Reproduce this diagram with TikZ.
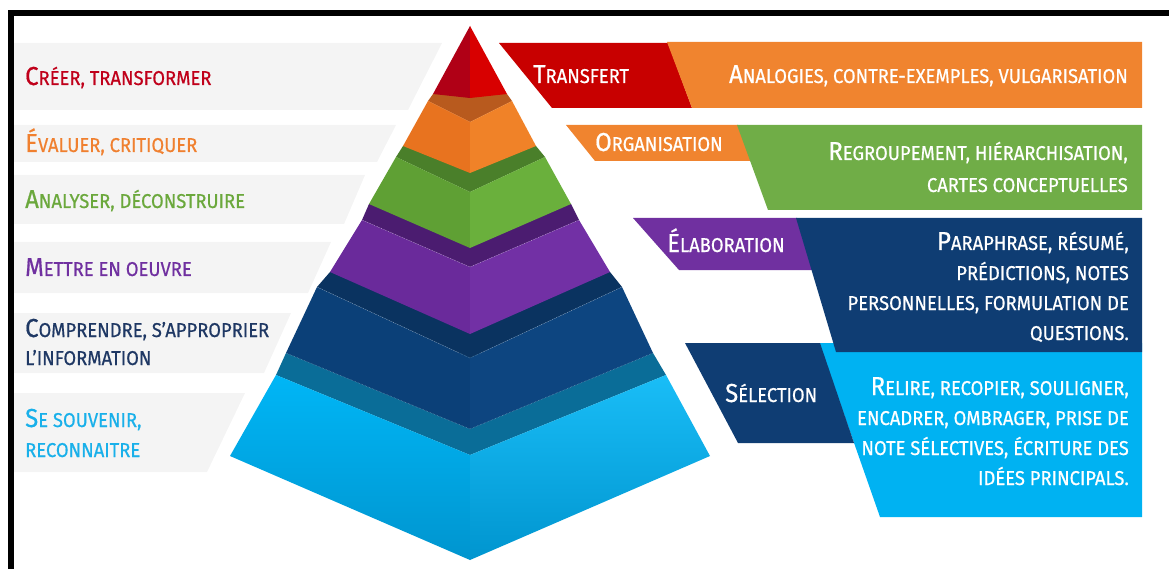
\documentclass[tikz,border=0pt]{standalone}
\usepackage{fontspec}
\setmainfont{Fira Sans}
\newfontfamily\labelfont[FakeStretch=0.92, FakeBold=0.6]{Fira Sans}
\usepackage{tikz}

% smaller capitals for the rest of a label
\newcommand\sm[1]{{\fontsize{20}{22}\selectfont #1}}

\definecolor{bandgray}{HTML}{F4F4F4}
\definecolor{tred}{HTML}{C0001A}
\definecolor{torange}{HTML}{F0802F}
\definecolor{tgreen}{HTML}{6BA83C}
\definecolor{tpurple}{HTML}{7030A0}
\definecolor{tdkblue}{HTML}{1F3864}
\definecolor{tltblue}{HTML}{19B0EA}

\definecolor{redL}{HTML}{B00016}
\definecolor{redR}{HTML}{D80000}
\definecolor{orangeT}{HTML}{B85A1E}
\definecolor{orangeL}{HTML}{E8731F}
\definecolor{orangeR}{HTML}{F08228}
\definecolor{greenT}{HTML}{4A7F2A}
\definecolor{greenL}{HTML}{5FA034}
\definecolor{greenR}{HTML}{6AB03C}
\definecolor{purpleT}{HTML}{4B1C70}
\definecolor{purpleL}{HTML}{6A2A9B}
\definecolor{purpleR}{HTML}{7230A5}
\definecolor{dkblueT}{HTML}{0A3360}
\definecolor{dkblueL}{HTML}{0B4078}
\definecolor{dkblueR}{HTML}{0D4580}
\definecolor{ltblueT}{HTML}{0A6D98}
\definecolor{ltblueA}{HTML}{00B6F6}
\definecolor{ltblueB}{HTML}{0095CF}

\definecolor{boxred}{HTML}{C80000}
\definecolor{boxorange}{HTML}{F0842F}
\definecolor{boxgreen}{HTML}{70AD47}
\definecolor{boxpurple}{HTML}{7030A0}
\definecolor{boxdkblue}{HTML}{0F3D73}
\definecolor{boxltblue}{HTML}{00B2F2}

\begin{document}
\begin{tikzpicture}[x=1pt, y=-1pt,
		lbl/.style={inner sep=0pt, anchor=base west, font=\labelfont\fontsize{26}{28}\selectfont},
		rlbl/.style={lbl, anchor=base east, text=white},
		crease/.style={white, opacity=0.45, densely dotted, line width=0.5pt}]
			%%%%% START %%%%%
			\useasboundingbox (0,0) rectangle (1169,569);
			
			\fill[black] (8,10) rectangle (1169,16);
			\fill[black] (8,10) rectangle (14,569);
			
			%%%%% LEFT BANDS %%%%%
			\fill[bandgray] (14,43) -- (442,43) -- (408,110) -- (14,110) -- cycle;
			\fill[bandgray] (14,125) -- (396,125) -- (377,162) -- (14,162) -- cycle;
			\fill[bandgray] (14,175) -- (365,175) -- (344,224) -- (14,224) -- cycle;
			\fill[bandgray] (14,242) -- (331,242) -- (308,293) -- (14,293) -- cycle;
			\fill[bandgray] (14,313) -- (291,313) -- (264,373) -- (14,373) -- cycle;
			\fill[bandgray] (14,393) -- (245,393) -- (207,472) -- (14,472) -- cycle;
			
			%%%%% PYRAMID %%%%%
			% light blue
			\fill[ltblueT] (276,375) -- (470,455) -- (666,375) -- (653,353) -- (286,353) -- cycle;
			\shade[top color=ltblueA, bottom color=ltblueB] (276,375) -- (470,455) -- (470,560) -- (230,456) -- cycle;
			\shade[top color=ltblueA!90!white, bottom color=ltblueB] (470,455) -- (666,375) -- (710,456) -- (470,560) -- cycle;
			
			% dark blue
			\fill[dkblueT] (317,287) -- (470,358) -- (622,287) -- (610,272) -- (330,272) -- cycle;
			\fill[dkblueL] (317,287) -- (470,358) -- (470,429) -- (286,353) -- cycle;
			\fill[dkblueR] (470,358) -- (622,287) -- (653,353) -- (470,429) -- cycle;
			\draw[crease] (317,287) -- (470,358) -- (622,287);
			\draw[crease] (286,353) -- (470,429) -- (653,353);
			
			% purple
			\fill[purpleT] (362,220) -- (470,267) -- (579,220) -- (571,204) -- (369,204) -- cycle;
			\fill[purpleL] (362,220) -- (470,267) -- (470,334) -- (330,272) -- cycle;
			\fill[purpleR] (470,267) -- (579,220) -- (610,272) -- (470,334) -- cycle;
			\draw[crease] (362,220) -- (470,267) -- (579,220);
			
			% green
			\fill[greenT] (396,157) -- (470,192) -- (545,157) -- (536,146) -- (403,146) -- cycle;
			\fill[greenL] (396,157) -- (470,192) -- (470,248) -- (369,204) -- cycle;
			\fill[greenR] (470,192) -- (545,157) -- (571,204) -- (470,248) -- cycle;
			
			% orange
			\fill[orangeT] (428,101) -- (470,122) -- (512,101) -- (507,94) -- (433,94) -- cycle;
			\fill[orangeL] (428,101) -- (470,122) -- (470,173) -- (403,146) -- cycle;
			\fill[orangeR] (470,122) -- (512,101) -- (536,146) -- (470,173) -- cycle;
			
			% red
			\fill[redL] (470,26) -- (470,98) -- (433,94) -- cycle;
			\fill[redR] (470,26) -- (507,94) -- (470,98) -- cycle;
			
			%%%%% RIGHT BOXES %%%%%
			\fill[boxred] (499,43) -- (668,43) -- (692,108) -- (552,108) -- cycle;
			\fill[boxorange] (667,42) -- (1142,42) -- (1142,108) -- (692,108) -- cycle;
			
			\fill[boxorange] (566,125) -- (738,125) -- (751,161) -- (595,161) -- cycle;
			\fill[boxgreen] (737,125) -- (1142,125) -- (1142,210) -- (768,210) -- cycle;
			
			\fill[boxltblue] (819,343) -- (1142,343) -- (1142,517) -- (880,517) -- cycle;
			\fill[boxdkblue] (685,343) -- (820,343) -- (854,443) -- (738,443) -- cycle;
			
			\fill[boxpurple] (633,218) -- (797,218) -- (813,270) -- (679,270) -- cycle;
			\fill[boxdkblue] (796,218) -- (1142,218) -- (1142,352) -- (836,352) -- cycle;
			
			%%%%% LEFT LABELS %%%%%
			\node[lbl, text=tred] (creer) at (25,85) {C\sm{RÉER, TRANSFORMER}};
			\node[lbl, text=torange] (evaluer) at (25,152) {É\sm{VALUER, CRITIQUER}};
			\node[lbl, text=tgreen] (analyser) at (25,208) {A\sm{NALYSER, DÉCONSTRUIRE}};
			\node[lbl, text=tpurple] (mettre) at (25,276) {M\sm{ETTRE EN OEUVRE}};
			\node[lbl, text=tdkblue] (comprendre) at (25,337) {C\sm{OMPRENDRE, S’APPROPRIER}};
			\node[lbl, text=tdkblue] (information) at (25,365) {\sm{L’INFORMATION}};
			\node[lbl, text=tltblue] (souvenir) at (25,427) {S\sm{E SOUVENIR,}};
			\node[lbl, text=tltblue] (reconnaitre) at (25,457) {\sm{RECONNAITRE}};
			
			%%%%% RIGHT LABELS %%%%%
			\node[lbl, text=white] (transfert) at (533,83) {T\sm{RANSFERT}};
			\node[rlbl] (analogies) at (1128,83) {A\sm{NALOGIES, CONTRE-EXEMPLES, VULGARISATION}};
			
			\node[lbl, text=white] (organisation) at (595,151) {O\sm{RGANISATION}};
			\node[rlbl] (regroupement) at (1128,160) {R\sm{EGROUPEMENT, HIÉRARCHISATION,}};
			\node[rlbl] (cartes) at (1128,192) {\sm{CARTES CONCEPTUELLES}};
			
			\node[lbl, text=white] (elaboration) at (667,252) {É\sm{LABORATION}};
			\node[rlbl] (paraphrase) at (1129,250) {P\sm{ARAPHRASE, RÉSUMÉ,}};
			\node[rlbl] (predictions) at (1129,280) {\sm{PRÉDICTIONS, NOTES}};
			\node[rlbl] (personnelles) at (1129,310) {\sm{PERSONNELLES, FORMULATION DE}};
			\node[rlbl] (questions) at (1129,340) {\sm{QUESTIONS.}};
			
			\node[lbl, text=white] (selection) at (725,402) {S\sm{ÉLECTION}};
			\node[rlbl] (relire) at (1129,395) {R\sm{ELIRE, RECOPIER, SOULIGNER,}};
			\node[rlbl] (encadrer) at (1129,425) {\sm{ENCADRER, OMBRAGER, PRISE DE}};
			\node[rlbl] (note) at (1129,455) {\sm{NOTE SÉLECTIVES, ÉCRITURE DES}};
			\node[rlbl] (idees) at (1129,485) {\sm{IDÉES PRINCIPALS.}};
			%%%%% END %%%%%
\end{tikzpicture}
\end{document}
